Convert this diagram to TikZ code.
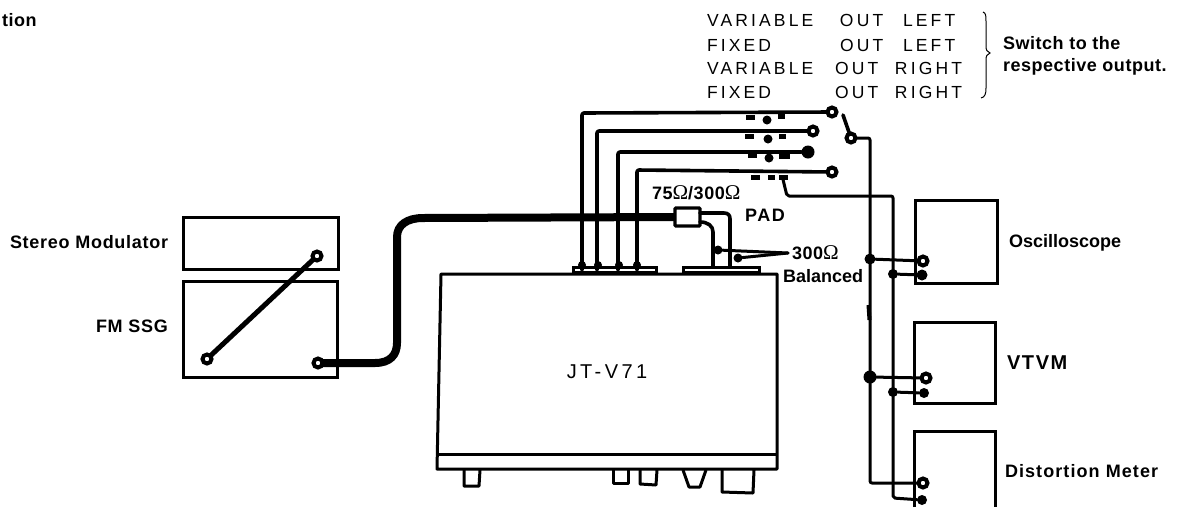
\documentclass[tikz,border=0pt]{standalone}
\usepackage{fontspec}
\setmainfont{Liberation Sans}
\newfontfamily\labA{Liberation Sans Bold}
\newfontfamily\labB[LetterSpace=3]{Liberation Sans Bold}
\newfontfamily\labC[LetterSpace=4]{Liberation Sans Bold}
\newfontfamily\labD[LetterSpace=6]{Liberation Sans Bold}
\newfontfamily\labE[LetterSpace=9]{Liberation Sans Bold}
\newfontfamily\labF[LetterSpace=8]{Liberation Sans Bold}
\newfontfamily\thin[LetterSpace=18]{Liberation Sans}
\newfontfamily\thinM[LetterSpace=17]{Liberation Sans}
\newfontfamily\omg{Liberation Serif}
\newcommand{\ohm}{{\fontsize{21}{21}\selectfont\omg Ω}}
\newcommand{\sz}{\fontsize{18}{18}\selectfont}
\tikzset{
  wire/.style={line width=3pt,line join=round,line cap=round},
  thickwire/.style={line width=8pt,line join=round},
  medwire/.style={line width=3.6pt,line join=round,line cap=round},
  box/.style={draw,line width=3pt,inner sep=0pt,outer sep=0pt},
  term/.style={circle,draw,fill=white,line width=4pt,minimum size=9pt,inner sep=0pt,outer sep=0pt},
  fterm/.style={circle,fill=black,minimum size=13pt,inner sep=0pt,outer sep=0pt},
  dot/.style={circle,fill=black,minimum size=9pt,inner sep=0pt,outer sep=0pt},
  lbl/.style={anchor=west,inner sep=0pt,outer sep=0pt},
  thinlbl/.style={anchor=west,inner sep=0pt,outer sep=0pt,font=\fontsize{17.5}{17.5}\selectfont\thin},
  contact/.style={fill=black,minimum width=9pt,minimum height=5pt,inner sep=0pt,outer sep=0pt}
}
\begin{document}
\begin{tikzpicture}[x=1pt,y=-1pt]
\useasboundingbox (0,0) rectangle (1183,507);
% generators
\node[box,minimum width=155pt,minimum height=52pt] (stereo) at (260.5,243) {};
\node[box,minimum width=154pt,minimum height=96pt] (ssg) at (260,329) {};
% receiver body
\draw[line width=3pt,line join=round] (437,469) -- (441,274) -- (777,274) -- (777,469) -- cycle;
\draw[line width=3pt] (438,454) -- (776,454);
\node[inner sep=0pt,anchor=center,font=\fontsize{20}{20}\selectfont\thinM] (model) at (607,372) {JT-V71};
% feet
\draw[line width=3pt,line join=round] (464,470) -- (464,486) -- (479,486) -- (480,470);
\draw[line width=3pt,line join=round] (613,470) -- (613,483) -- (628,483) -- (628,470);
\draw[line width=3pt,line join=round] (640,470) -- (640,484) -- (656,485) -- (657,470);
\draw[line width=3pt,line join=round] (683,470) -- (689,487) -- (700,487) -- (706,470);
\draw[line width=3pt,line join=round] (722,470) -- (722,492) -- (753,493) -- (754,470);
% back plates
\node[box,minimum width=83pt,minimum height=5pt] (plateA) at (615,270) {};
\node[box,minimum width=76pt,minimum height=5pt] (plateB) at (721,270) {};
% instruments
\node[box,minimum width=82pt,minimum height=83pt] (scope) at (956,241.5) {};
\node[box,minimum width=81pt,minimum height=81pt] (vtvm) at (954.5,362.5) {};
\draw[box] (914,507) -- (914,431) -- (995,431) -- (995,507);
% cable waypoints
\coordinate (cableA) at (397,343);
\coordinate (cableB) at (397,237);
% PAD
\node[box,line width=3.4pt,fill=white,minimum width=25pt,minimum height=18pt,rounded corners=1pt] (pad) at (687.5,217) {};
% cable
\node[term] (ssgout) at (318,363) {};
\node[term] (ssgin) at (207,359) {};
\node[term] (stin) at (317,256) {};
\draw[line width=5pt] (ssgin) -- (stin);
\draw[thickwire] (ssgout.east) -- (375,363) .. controls (390,363) and (397,355) .. (cableA) -- (cableB) .. controls (397,225) and (407,218) .. (423,218) -- (pad.west);
% selector outputs
\node[term] (sw1) at (832,112) {};
\node[term] (sw2) at (813,131) {};
\node[fterm] (sw3) at (808,152) {};
\node[term] (sw4) at (832,172) {};
\node[term] (swc) at (851,138) {};
\coordinate (lever) at (843,115);
\coordinate (p1) at (582,270); \coordinate (c1) at (582,113);
\coordinate (p2) at (597,270); \coordinate (c2) at (597,131);
\coordinate (p3) at (618,270); \coordinate (c3) at (618,152);
\coordinate (p4) at (637,270); \coordinate (c4) at (637,170);
\draw[medwire,rounded corners=2pt] (p1) -- (c1) -- (sw1);
\draw[medwire,rounded corners=2pt] (p2) -- (c2) -- (sw2);
\draw[medwire,rounded corners=2pt] (p3) -- (c3) -- (sw3);
\draw[medwire,rounded corners=2pt] (p4) -- (c4) -- (sw4);
\foreach \n/\x in {a/582,b/598,c/619,d/637}{
  \node[fill=black,minimum size=8pt,circle,inner sep=0pt] (foot\n) at (\x,265) {};
}
% contact clusters
\node[contact] (k1a) at (750,117) {}; \node[dot] (k1b) at (767,120) {}; \node[contact,minimum width=7pt] (k1c) at (781,116) {};
\node[contact] (k2a) at (749,136) {}; \node[dot] (k2b) at (768,139) {}; \node[contact,minimum width=7pt] (k2c) at (782,136) {};
\node[contact] (k3a) at (752,155) {}; \node[dot] (k3b) at (769,158) {}; \node[contact,minimum width=11pt] (k3c) at (784,156) {};
\node[contact] (k4a) at (755,177) {}; \node[contact,minimum width=7pt] (k4b) at (771,177) {}; \node[contact] (k4c) at (783,177) {};
% switch and output buses
\coordinate (bus1t) at (870,138);
\coordinate (bus1b) at (870,483);
\coordinate (bus2a) at (787,196);
\coordinate (bus2t) at (893,196);
\coordinate (bus2b) at (893,498);
\node[term] (di1) at (923,483) {};
\node[fterm,minimum size=10pt] (di2) at (922,500) {};
\node[term] (os1) at (923,261) {};
\node[fterm,minimum size=11pt] (os2) at (922,275) {};
\node[term] (vt1) at (926,378) {};
\node[fterm,minimum size=10pt] (vt2) at (924,393) {};
\node[dot,minimum size=11pt] (j1) at (870,259) {};
\node[dot,minimum size=10pt] (j2) at (893,274) {};
\node[dot,minimum size=13pt] (j3) at (870,377) {};
\node[dot,minimum size=10pt] (j4) at (893,392) {};
\draw[medwire] (lever) -- (swc);
\draw[wire,rounded corners=2pt] (swc) -- (bus1t) -- (bus1b) -- (di1);
\draw[wire,rounded corners=2pt] (k4c.south) -- (bus2a) -- (bus2t) -- (bus2b) -- (di2);
\draw[wire] (j1) -- (os1);
\draw[wire] (j2) -- (os2);
\draw[wire] (j3) -- (vt1);
\draw[wire] (j4) -- (vt2);
\draw[line width=4pt] (868.5,305) -- (869.5,320);
% balanced 300 ohm feed
\coordinate (padU) at (730,213);
\coordinate (padUb) at (730,266);
\coordinate (padL) at (713,232);
\coordinate (padLb) at (713,266);
\draw[medwire] (700,213) -- (724,213) .. controls (728,213) and (730,215) .. (730,219) -- (padUb);
\draw[medwire] (700,222) .. controls (708,222) and (713,226) .. (padL) -- (padLb);
\node[dot] (bal1) at (718,250) {};
\node[dot] (bal2) at (738,258) {};
\coordinate (balTip) at (788,253);
\draw[wire] (bal1) -- (balTip);
\draw[wire] (bal2) -- (balTip);
% labels
\node[lbl,font=\sz\labB] (t0) at (2,20) {tion};
\node[lbl,font=\sz\labC] (lstereo) at (10,242) {Stereo Modulator};
\node[lbl,font=\sz\labC] (lfm) at (96,326) {FM SSG};
\node[lbl,font=\sz\labB] (l75) at (652,193) {75\ohm/300\ohm};
\node[lbl,font=\sz\labE] (lpad) at (745,215) {PAD};
\node[lbl,font=\sz\labB] (l300) at (792,253) {300\ohm};
\node[lbl,font=\sz\labA] (lbal) at (783,276) {Balanced};
\node[lbl,font=\sz\labA] (losc) at (1009,243) {Oscilloscope};
\node[lbl,font=\fontsize{20}{20}\selectfont\labF] (lvt) at (1007,363) {VTVM};
\node[lbl,font=\sz\labD] (ldist) at (1005,471) {Distortion Meter};
\node[thinlbl] (v1) at (707,20) {\makebox[133pt][l]{VARIABLE}\makebox[63pt][l]{OUT}LEFT};
\node[thinlbl] (v2) at (707,45) {\makebox[133pt][l]{FIXED}\makebox[63pt][l]{OUT}LEFT};
\node[thinlbl] (v3) at (707,68) {\makebox[128pt][l]{VARIABLE}\makebox[60pt][l]{OUT}RIGHT};
\node[thinlbl] (v4) at (707,92) {\makebox[128pt][l]{FIXED}\makebox[60pt][l]{OUT}RIGHT};
\draw[line width=1pt] (983,12) .. controls (986,13) and (986,16) .. (986,22) -- (986,46) .. controls (986,50) and (987,52) .. (990,53) .. controls (987,54) and (986,56) .. (986,60) -- (986,88) .. controls (986,94) and (985,97) .. (981,98);
\node[lbl,font=\sz\labB] (s1) at (1003,43) {Switch to the};
\node[lbl,font=\sz\labB] (s2) at (1003,67) {respective output.};
\end{tikzpicture}
\end{document}
